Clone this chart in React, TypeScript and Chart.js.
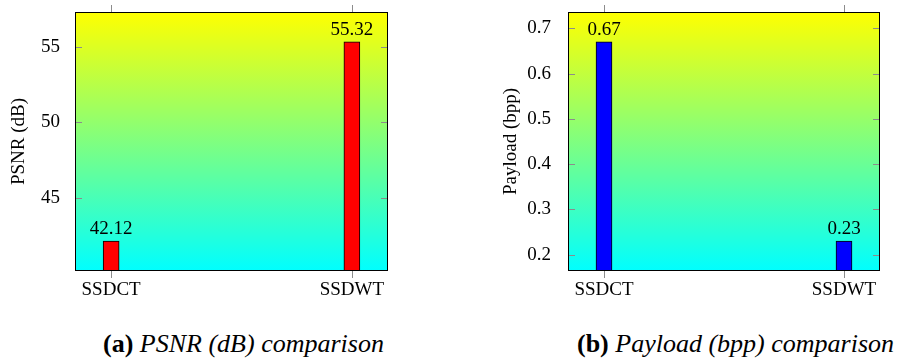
import React, { useEffect, useRef } from 'react';
import { Chart, registerables } from 'chart.js';

Chart.register(...registerables);

const categories = ['SSDCT', 'SSDWT'];
const categoryPositions = [0, 1];
const psnrValues = [42.12, 55.32];
const payloadValues = [0.67, 0.23];
const psnrTicks = [45, 50, 55];
const payloadTicks = [0.2, 0.3, 0.4, 0.5, 0.6, 0.7];
const psnrRange = [40.14, 57.3];
const payloadRange = [0.164, 0.736];
const xRange = [-0.15, 1.15];

const FONT = "'Liberation Serif'";
const FS = 19;
const CANVAS_H = 310;

const framePlugin = {
  id: 'frame',
  beforeDatasetsDraw(chart: any) {
    const { ctx, chartArea: a } = chart;
    const g = ctx.createLinearGradient(0, a.top, 0, a.bottom);
    g.addColorStop(0, '#ffff00');
    g.addColorStop(1, '#00ffff');
    ctx.save();
    ctx.fillStyle = g;
    ctx.fillRect(a.left, a.top, a.right - a.left, a.bottom - a.top);
    ctx.restore();
  },
  afterDatasetsDraw(chart: any, _args: any, opts: any) {
    const { ctx, chartArea: a } = chart;
    const xs = chart.scales.x;
    const ys = chart.scales.y;
    ctx.save();
    ctx.strokeStyle = '#8c8c8c';
    ctx.lineWidth = 1;
    ctx.beginPath();
    (opts.yTicks as number[]).forEach((v) => {
      const y = Math.round(ys.getPixelForValue(v)) + 0.5;
      ctx.moveTo(a.left, y);
      ctx.lineTo(a.left + 7, y);
      ctx.moveTo(a.right - 7, y);
      ctx.lineTo(a.right, y);
    });
    (opts.xTicks as number[]).forEach((v) => {
      const x = Math.round(xs.getPixelForValue(v)) + 0.5;
      ctx.moveTo(x, a.top - 7);
      ctx.lineTo(x, a.top);
      ctx.moveTo(x, a.bottom);
      ctx.lineTo(x, a.bottom + 7);
    });
    ctx.stroke();
    ctx.strokeStyle = '#000000';
    ctx.lineWidth = 1;
    ctx.strokeRect(a.left + 0.5, a.top + 0.5, a.right - a.left - 1, a.bottom - a.top - 1);
    ctx.fillStyle = '#000000';
    ctx.font = FS + 'px ' + FONT;
    ctx.textAlign = 'center';
    ctx.textBaseline = 'alphabetic';
    const meta = chart.getDatasetMeta(0);
    meta.data.forEach((bar: any, i: number) => {
      ctx.fillText(opts.format(opts.values[i]), bar.x, bar.y - 7);
    });
    ctx.restore();
  },
};

type PanelProps = {
  values: number[];
  yTicks: number[];
  yRange: number[];
  color: string;
  title: string;
  width: number;
  yAxisWidth: number;
  rightPad: number;
  titlePad: number;
  tickPad: number;
  valueDecimals: number;
  tickDecimals: number;
};

function Panel(p: PanelProps) {
  const ref = useRef<HTMLCanvasElement>(null);
  useEffect(() => {
    if (!ref.current) return;
    const chart = new Chart(ref.current, {
      type: 'bar',
      data: {
        datasets: [
          {
            data: categoryPositions.map((x, i) => ({ x, y: p.values[i] })),
            backgroundColor: p.color,
            borderColor: '#000000',
            borderWidth: 1,
            barThickness: 16,
          },
        ],
      },
      plugins: [framePlugin],
      options: {
        animation: false,
        responsive: false,
        devicePixelRatio: 1,
        layout: { padding: { top: 12, right: p.rightPad, left: 0, bottom: 0 } },
        plugins: {
          legend: { display: false },
          tooltip: { enabled: false },
          frame: {
            yTicks: p.yTicks,
            xTicks: categoryPositions,
            values: p.values,
            format: (v: number) => v.toFixed(p.valueDecimals),
          },
        } as any,
        scales: {
          x: {
            type: 'linear',
            min: xRange[0],
            max: xRange[1],
            offset: false,
            grid: { display: false, offset: false },
            border: { display: false },
            afterBuildTicks: (s: any) => {
              s.ticks = categoryPositions.map((v) => ({ value: v }));
            },
            afterFit: (s: any) => {
              s.height = CANVAS_H - 271;
              s.paddingLeft = 0;
              s.paddingRight = 0;
            },
            ticks: {
              padding: 0,
              color: '#000000',
              maxRotation: 0,
              autoSkip: false,
              font: { family: FONT, size: FS },
              callback: (v: any) => categories[categoryPositions.indexOf(Number(v))] ?? '',
            },
          },
          y: {
            type: 'linear',
            min: p.yRange[0],
            max: p.yRange[1],
            grid: { display: false },
            border: { display: false },
            afterBuildTicks: (s: any) => {
              s.ticks = p.yTicks.map((v) => ({ value: v }));
            },
            afterFit: (s: any) => {
              s.width = p.yAxisWidth;
              s.paddingTop = 0;
              s.paddingBottom = 0;
            },
            ticks: {
              padding: p.tickPad,
              color: '#000000',
              autoSkip: false,
              font: { family: FONT, size: FS },
              callback: (v: any) => Number(v).toFixed(p.tickDecimals),
            },
            title: {
              display: true,
              text: p.title,
              color: '#000000',
              font: { family: FONT, size: FS },
              padding: { top: p.titlePad, bottom: 0 },
            },
          },
        },
      } as any,
    });
    return () => chart.destroy();
  }, []);
  return (
    <canvas
      ref={ref}
      width={p.width}
      height={CANVAS_H}
      style={{ width: p.width, height: CANVAS_H, display: 'block' }}
    />
  );
}

const captionStyle: React.CSSProperties = {
  position: 'absolute',
  top: 331,
  fontFamily: FONT,
  fontSize: 26,
  lineHeight: '26px',
  whiteSpace: 'nowrap',
  color: '#000000',
};

export default function App() {
  return (
    <div
      style={{
        position: 'absolute',
        left: 0,
        top: 0,
        width: 901,
        height: 363,
        background: '#ffffff',
        overflow: 'hidden',
      }}
    >
      <div style={{ position: 'absolute', left: 0, top: 0 }}>
        <Panel
          values={psnrValues}
          yTicks={psnrTicks}
          yRange={psnrRange}
          color="#ff0000"
          title="PSNR (dB)"
          width={450}
          yAxisWidth={75}
          rightPad={62}
          titlePad={8}
          tickPad={7}
          valueDecimals={2}
          tickDecimals={0}
        />
      </div>
      <div style={{ position: 'absolute', left: 450, top: 0 }}>
        <Panel
          values={payloadValues}
          yTicks={payloadTicks}
          yRange={payloadRange}
          color="#0000ff"
          title="Payload (bpp)"
          width={451}
          yAxisWidth={118}
          rightPad={21}
          titlePad={50}
          tickPad={9}
          valueDecimals={2}
          tickDecimals={1}
        />
      </div>
      <div style={{ ...captionStyle, left: 103 }}>
        <b style={{ fontStyle: 'normal' }}>(a)</b> <i>PSNR (dB) comparison</i>
      </div>
      <div style={{ ...captionStyle, left: 577 }}>
        <b style={{ fontStyle: 'normal' }}>(b)</b> <i>Payload (bpp) comparison</i>
      </div>
    </div>
  );
}
